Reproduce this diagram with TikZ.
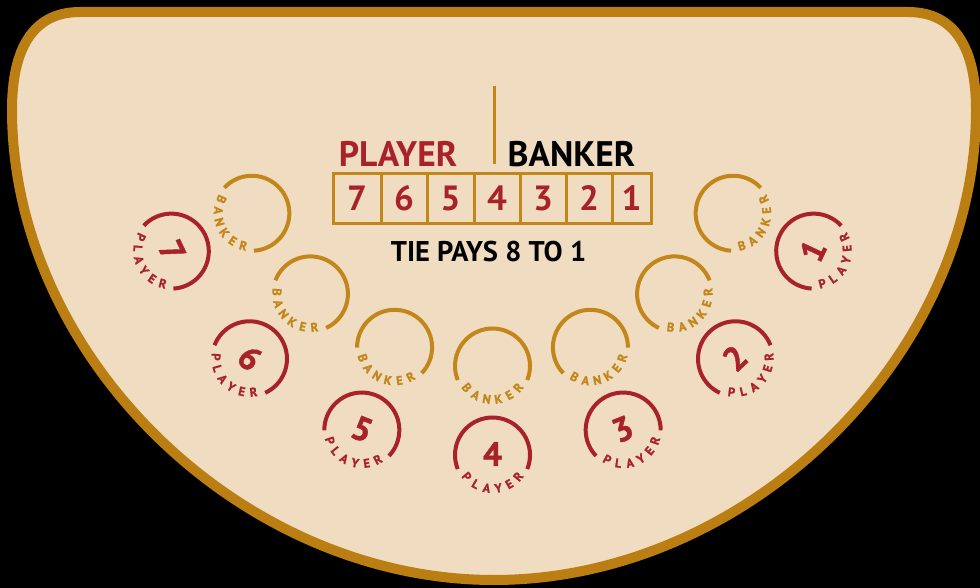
\documentclass[tikz,border=0pt]{standalone}
\usepackage{fontspec}
\setmainfont{PT Sans}
\newfontfamily\heavysans{PT Sans}[UprightFeatures={FakeBold=1.2},BoldFeatures={FakeBold=1.2}]
\definecolor{feltc}{HTML}{F0DCC0}
\definecolor{rimc}{HTML}{BB7E12}
\definecolor{goldc}{HTML}{C2861A}
\definecolor{redc}{HTML}{A82329}
\tikzset{
  bankerarc/.style={draw=goldc,line width=4pt},
  playerarc/.style={draw=redc,line width=4pt},
  spotlbl/.style={inner sep=0pt,font=\heavysans\fontsize{12.5}{12.5}\selectfont\bfseries},
  spotnum/.style={inner sep=0pt,text=redc,font=\heavysans\fontsize{34}{34}\selectfont\bfseries},
  bigword/.style={inner sep=0pt,anchor=base,font=\fontsize{35.5}{35.5}\selectfont\bfseries},
  boxnum/.style={inner sep=0pt,text=redc,font=\fontsize{35}{35}\selectfont\bfseries},
}
\begin{document}
\begin{tikzpicture}[x=1pt,y=1pt]
\fill[black] (0,0) rectangle (980,-588);
\useasboundingbox (0,0) rectangle (980,-588);
% table
\draw[fill=feltc,draw=rimc,line width=10pt]
  (12,-110) .. controls (12,-50) and (32,-12) .. (80,-12) -- (908,-12)
  .. controls (956,-12) and (976,-50) .. (976,-110)
  .. controls (976,-357) and (747,-580) .. (494,-580)
  .. controls (241,-580) and (12,-357) .. cycle;
% divider line
\coordinate (vtop) at (494,-86);
\coordinate (vbot) at (494,-164);
\draw[goldc,line width=3pt] (vtop) -- (vbot);
\node[bigword,text=redc] (plw) at (398,-167) {PLAYER};
\node[bigword,text=black] (bkw) at (571.5,-167) {BANKER};
% tie box
\draw[goldc,line width=3pt] (333,-174) rectangle (651,-224);
\foreach \xx in {381,427,474,520,566,612} \draw[goldc,line width=3pt] (\xx,-174) -- (\xx,-224);
\foreach \xx/\dd in {357/7,404/6,450.5/5,497/4,543/3,589/2,631.5/1}
  \node[boxnum] (box\dd) at (\xx,-198.5) {\dd};
\node[bigword,text=black,font=\fontsize{28.5}{28.5}\selectfont\bfseries] (tie) at (488.5,-261.7) {TIE PAYS 8 TO 1};
% spots
\foreach \kk in {-3,...,3} {
  \pgfmathsetmacro{\spang}{270+21.6*\kk}
  \pgfmathtruncatemacro{\spnum}{4-\kk}
  \pgfmathsetmacro{\bcx}{492.5+266*cos(\spang)}
  \pgfmathsetmacro{\bcy}{-100+266*sin(\spang)}
  \pgfmathsetmacro{\pcx}{492.5+355*cos(\spang)}
  \pgfmathsetmacro{\pcy}{-100+355*sin(\spang)}
  \pgfmathsetmacro{\sprot}{\spang+90}
  \begin{scope}[shift={(\bcx,\bcy)},rotate=\sprot,transform shape]
    \draw[bankerarc] (-22:37.5) arc[start angle=-22,end angle=202,radius=37.5];
    \foreach \ch [count=\ii] in {B,A,N,K,E,R} {
      \pgfmathsetmacro{\lpos}{270+(\ii-3.5)*20}
      \pgfmathsetmacro{\lrot}{\lpos+90}
      \node[spotlbl,text=goldc,rotate=\lrot] (b\spnum l\ii) at (\lpos:33.5) {\ch};
    }
  \end{scope}
  \begin{scope}[shift={(\pcx,\pcy)},rotate=\sprot,transform shape]
    \draw[playerarc] (-22:37.5) arc[start angle=-22,end angle=202,radius=37.5];
    \node[spotnum] (p\spnum) at (0,1) {\spnum};
    \foreach \ch [count=\ii] in {P,L,A,Y,E,R} {
      \pgfmathsetmacro{\lpos}{270+(\ii-3.5)*20}
      \pgfmathsetmacro{\lrot}{\lpos+90}
      \node[spotlbl,text=redc,rotate=\lrot] (p\spnum l\ii) at (\lpos:33.5) {\ch};
    }
  \end{scope}
}
\end{tikzpicture}
\end{document}
